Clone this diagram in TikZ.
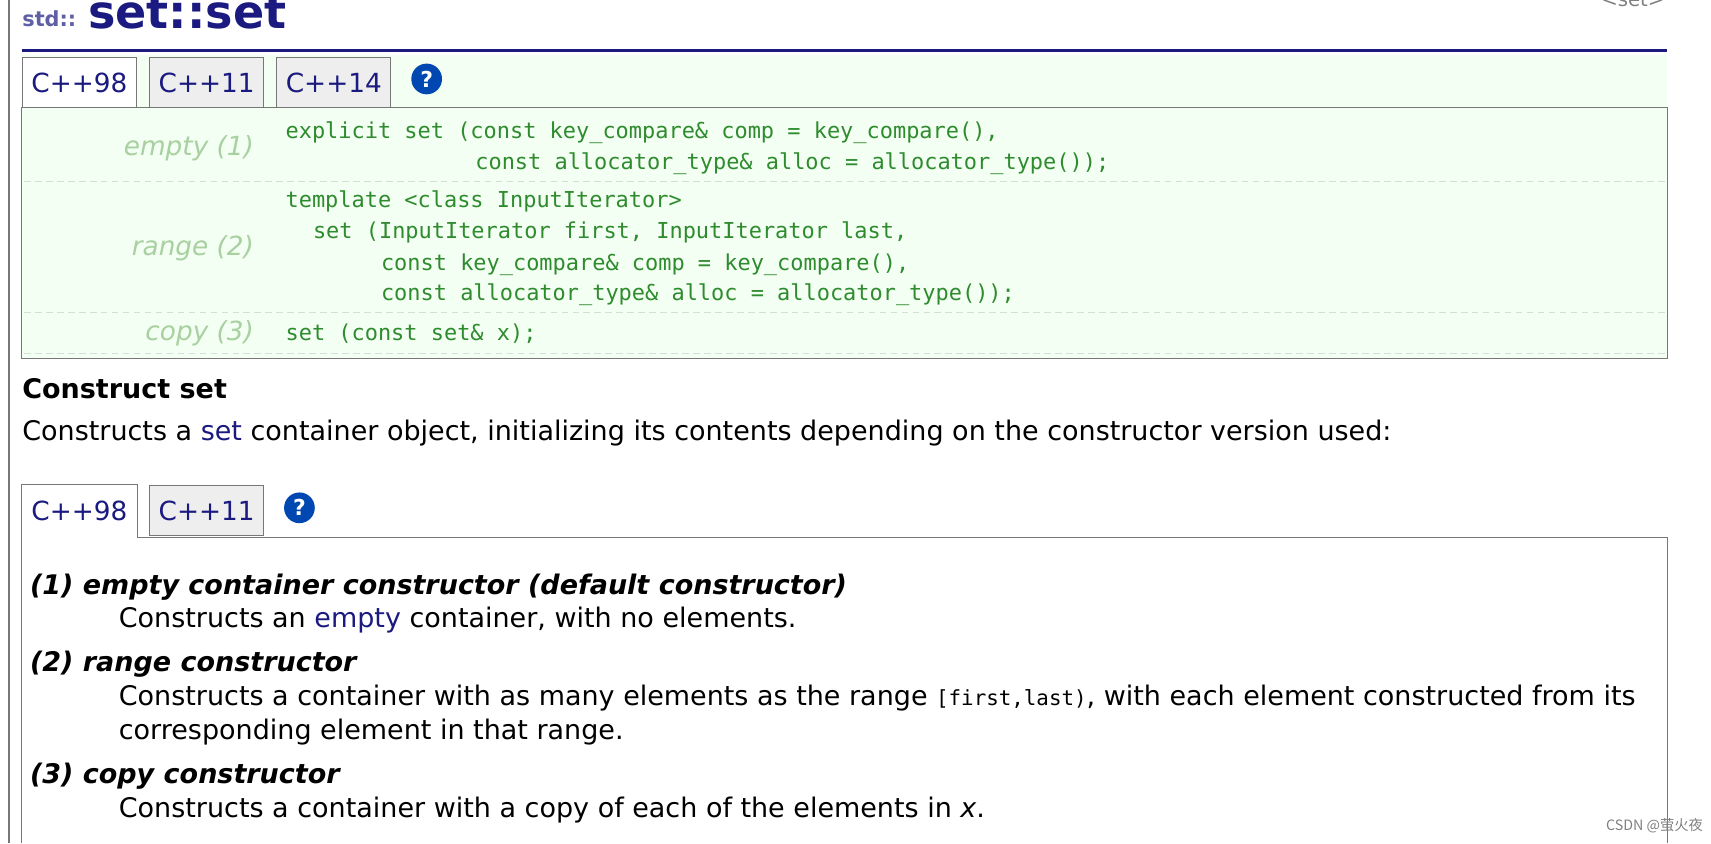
\documentclass[tikz,border=0pt]{standalone}
\usepackage{fontspec}
\setmainfont{DejaVu Sans}
\setmonofont{DejaVu Sans Mono}
\newfontfamily\cjk{Noto Sans CJK SC}
\usetikzlibrary{positioning}
\definecolor{navy}{HTML}{1A1A80}
\definecolor{codegreen}{HTML}{2E8B2E}
\definecolor{labgreen}{HTML}{A8D0A0}
\definecolor{bggreen}{HTML}{F3FFF2}
\definecolor{tabgray}{HTML}{EEEEEE}
\definecolor{rulegray}{HTML}{777777}
\begin{document}
\begin{tikzpicture}[x=0.5pt,y=-0.5pt,
  txt/.style={anchor=west,inner sep=0pt,font=\fontsize{12.3}{14}\selectfont},
  code/.style={anchor=west,inner sep=0pt,text=codegreen,font=\ttfamily\fontsize{10}{12}\selectfont},
  lab/.style={anchor=east,inner sep=0pt,text=labgreen,font=\itshape\fontsize{12}{14}\selectfont},
  head/.style={anchor=west,inner sep=0pt,font=\bfseries\itshape\fontsize{12.3}{14}\selectfont},
  tab/.style={draw=rulegray,fill=tabgray,minimum width=52pt,minimum height=23pt,anchor=north west,inner sep=0pt,font=\fontsize{12}{14}\selectfont,text=navy},
  help/.style={circle,fill=blue!60!cyan!70!black,text=white,inner sep=0pt,minimum size=14pt,font=\bfseries\fontsize{10}{12}\selectfont}]
\useasboundingbox (0,0) rectangle (1560,769);
% heading
\draw[rulegray,line width=1pt] (8,0) -- (8,769);
\node (std) [anchor=west,inner sep=0pt,text=navy!70,font=\bfseries\fontsize{9.5}{10}\selectfont] at (20,17) {std::};
\node (title) [anchor=west,inner sep=0pt,text=navy,font=\bfseries\fontsize{21}{22}\selectfont] at (80,12) {set::set};
\node (hdr) [anchor=east,inner sep=0pt,text=gray,font=\fontsize{9}{10}\selectfont] at (1518,0) {<set>};
\draw[navy,line width=1.5pt] (20,46) -- (1520,46);
% first tab row and prototype box
\fill[bggreen] (20,50) rectangle (1520,98);
\draw[rulegray,fill=bggreen] (20,98) rectangle (1520,327);
\node (ta) [tab,fill=white] at (20,52) {C++98};
\node (tb) [tab] at (136,52) {C++11};
\node (tc) [tab] at (252,52) {C++14};
\node (qa) [help] at (389,72) {?};
\foreach \yy in {165,285,322}
  \draw[densely dashed,green!15!gray!30] (22,\yy) -- (1518,\yy);
\node (le) [lab] at (232,135) {empty (1)};
\node (lr) [lab] at (232,226) {range (2)};
\node (lc) [lab] at (232,304) {copy (3)};
\node (c1) [code] at (260,121) {explicit set (const key\_compare\& comp = key\_compare(),};
\node (c2) [code] at (433,149) {const allocator\_type\& alloc = allocator\_type());};
\node (c3) [code] at (260,184) {template <class InputIterator>};
\node (c4) [code] at (285,212) {set (InputIterator first, InputIterator last,};
\node (c5) [code] at (347,241) {const key\_compare\& comp = key\_compare(),};
\node (c6) [code] at (347,269) {const allocator\_type\& alloc = allocator\_type());};
\node (c7) [code] at (260,304) {set (const set\& x);};
% description
\node (cs) [txt,font=\bfseries\fontsize{12.3}{14}\selectfont] at (20,354) {Construct set};
\node (d1) [txt] at (20,395) {Constructs a \textcolor{navy}{set} container object, initializing its contents depending on the constructor version used:};
% second tab row and box
\draw[rulegray] (20,490) -- (20,769) (1520,490) -- (1520,769) (125,490) -- (1520,490);
\node (td) [tab,fill=white,draw=none] at (20,442) {C++98};
\draw[rulegray] (20,490) -- (20,442) -- (125,442) -- (125,490);
\node (te) [tab] at (136,442) {C++11};
\node (qb) [help] at (273,463) {?};
\node (h1) [head] at (27,535) {(1) empty container constructor (default constructor)};
\node (p1) [txt] at (108,565) {Constructs an \textcolor{navy}{empty} container, with no elements.};
\node (h2) [head] at (27,606) {(2) range constructor};
\node (p2) [txt] at (108,636) {Constructs a container with as many elements as the range {\ttfamily\fontsize{9.5}{11}\selectfont [first,last)}, with each element constructed from its};
\node (p3) [txt] at (108,667) {corresponding element in that range.};
\node (h3) [head] at (27,708) {(3) copy constructor};
\node (p4) [txt] at (108,739) {Constructs a container with a copy of each of the elements in \textit{x}.};
\node (wm) [anchor=east,inner sep=0pt,text=gray,font=\cjk\fontsize{6.5}{8}\selectfont] at (1553,753) {CSDN @萤火夜};
\end{tikzpicture}
\end{document}
